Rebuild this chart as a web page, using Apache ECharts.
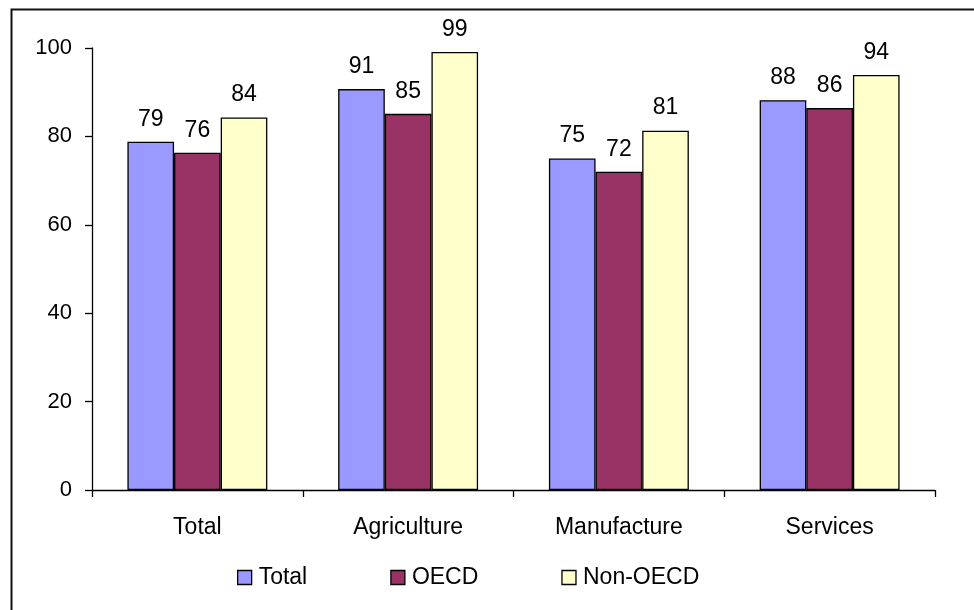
<!DOCTYPE html>
<html><head><meta charset="utf-8">
<script src="https://cdn.jsdelivr.net/npm/echarts@6/dist/echarts.min.js"></script>
<style>html,body{margin:0;padding:0;background:#fff}#c{width:974px;height:610px}</style>
</head><body><div id="c"></div>
<script>
const categories = ["Total", "Agriculture", "Manufacture", "Services"];
const seriesNames = ["Total", "OECD", "Non-OECD"];
const totalValues = [78.8, 90.7, 75.0, 88.2];
const oecdValues = [76.3, 85.1, 72.0, 86.4];
const nonOecdValues = [84.3, 99.1, 81.3, 93.9];
const yTicks = [0, 20, 40, 60, 80, 100];

const colors = ["#9999FF", "#993366", "#FFFFCC"];
const font = "Liberation Sans, Arial, sans-serif";
const chart = echarts.init(document.getElementById('c'));
const mk = (name, data, i) => ({
  name, type: 'bar', data,
  barGap: '0%', barCategoryGap: '33.6%',
  itemStyle: { color: colors[i], borderColor: '#000', borderWidth: 1.3 },
  label: { show: true, position: 'top', distance: 11, color: '#000', fontFamily: font, fontSize: 23,
           formatter: p => Math.round(p.value) },
  emphasis: { disabled: true }
});
chart.setOption({
  animation: false,
  backgroundColor: '#fff',
  graphic: [{ type: 'rect', left: 9, top: 7, shape: { width: 1000, height: 700 },
              style: { fill: 'none', stroke: '#111', lineWidth: 2 }, silent: true }],
  grid: { left: 92, right: 39, top: 48, bottom: 120 },
  legend: {
    data: seriesNames, left: 237, top: 566, padding: 0, itemGap: 83, itemWidth: 14, itemHeight: 14,
    icon: 'rect', textStyle: { fontFamily: font, fontSize: 23, color: '#000', padding: [0, 0, 0, 2] },
    itemStyle: { borderColor: '#000', borderWidth: 1.3 }
  },
  xAxis: {
    type: 'category', data: categories,
    axisLine: { lineStyle: { color: '#000', width: 1.3 } },
    axisTick: { show: true, length: 7, lineStyle: { color: '#000', width: 1.3 } },
    axisLabel: { color: '#000', fontFamily: font, fontSize: 23, margin: 26 }
  },
  yAxis: {
    type: 'value', min: yTicks[0], max: yTicks[yTicks.length - 1], interval: 20,
    splitLine: { show: false },
    axisLine: { show: true, lineStyle: { color: '#000', width: 1.3 } },
    axisTick: { show: true, length: 7, lineStyle: { color: '#000', width: 1.3 } },
    axisLabel: { color: '#000', fontFamily: font, fontSize: 22, margin: 20 }
  },
  series: [mk(seriesNames[0], totalValues, 0), mk(seriesNames[1], oecdValues, 1), mk(seriesNames[2], nonOecdValues, 2)]
});
</script></body></html>
